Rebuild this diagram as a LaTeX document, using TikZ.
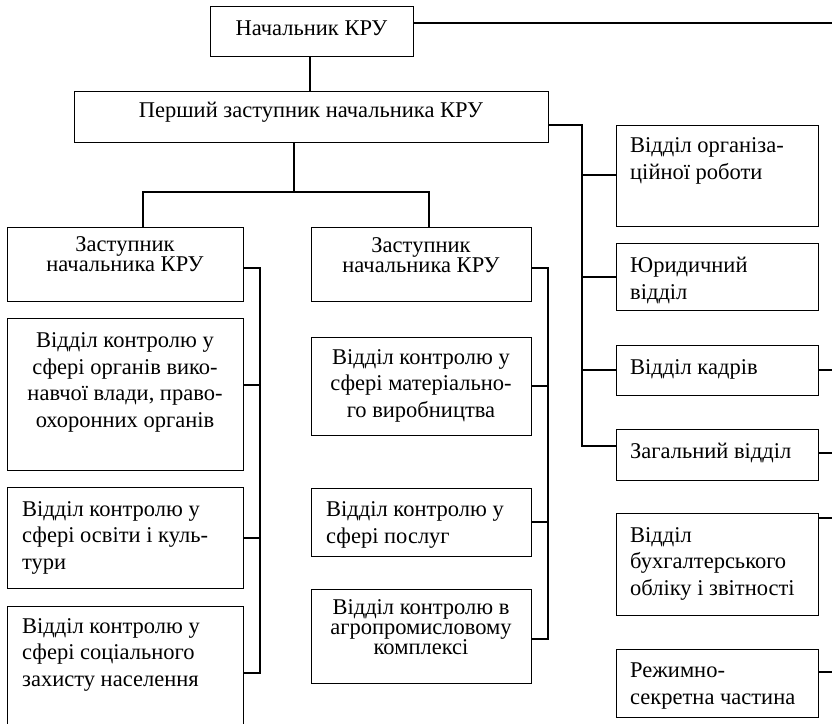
\documentclass[tikz,border=0pt]{standalone}
\usepackage{fontspec}
\setmainfont{Liberation Serif}
\usetikzlibrary{calc}
\begin{document}
% Text nodes are anchored at the baseline of their last line.
\begin{tikzpicture}[x=1pt,y=-1pt,
  box/.style={draw, line width=1.4pt, rectangle, inner sep=0pt, anchor=north west},
  conn/.style={line width=1.4pt},
  txt/.style={inner sep=0pt, font=\fontsize{22.5}{26.5}\selectfont},
  tight/.style={font=\fontsize{22.5}{20}\selectfont},
  ctr/.style={txt, anchor=base, align=center},
  lft/.style={txt, anchor=base west, align=left}]
\clip (0,0) rectangle (832,723);

% --- boxes ---
\node[box, minimum width=203, minimum height=50]  (chief)  at (210,6)   {};
\node[box, minimum width=474, minimum height=51]  (first)  at (74,91)   {};
\node[box, minimum width=236, minimum height=74]  (depL)   at (7,227)   {};
\node[box, minimum width=220, minimum height=74]  (depM)   at (311,227) {};
\node[box, minimum width=236, minimum height=152] (exec)   at (7,318)   {};
\node[box, minimum width=236, minimum height=101] (edu)    at (7,487)   {};
\node[box, minimum width=236, minimum height=130] (social) at (7,606)   {};
\node[box, minimum width=220, minimum height=98]  (matter) at (311,337) {};
\node[box, minimum width=220, minimum height=68]  (serv)   at (311,488) {};
\node[box, minimum width=220, minimum height=94]  (agro)   at (311,589) {};
\node[box, minimum width=202, minimum height=101] (org)    at (616,125) {};
\node[box, minimum width=202, minimum height=67]  (jur)    at (616,243) {};
\node[box, minimum width=202, minimum height=50]  (kadry)  at (616,345) {};
\node[box, minimum width=202, minimum height=51]  (zag)    at (616,429) {};
\node[box, minimum width=202, minimum height=102] (buh)    at (616,513) {};
\node[box, minimum width=202, minimum height=68]  (rezh)   at (616,649) {};

% --- texts ---
\node[ctr] (chief-t)  at (311.5,35) {Начальник КРУ};
\node[ctr] (first-t)  at (311,117)  {Перший заступник начальника КРУ};
\node[ctr, tight] (depL-t) at (125,271) {Заступник\\начальника КРУ};
\node[ctr, tight] (depM-t) at (421,272) {Заступник\\начальника КРУ};
\node[ctr] (exec-t)   at (125,427)  {Відділ контролю у\\сфері органів вико-\\навчої влади, право-\\охоронних органів};
\node[lft] (edu-t)    at (22,569)   {Відділ контролю у\\сфері освіти і куль-\\тури};
\node[lft] (social-t) at (22,686)   {Відділ контролю у\\сфері соціального\\захисту населення};
\node[ctr] (matter-t) at (421,417)  {Відділ контролю у\\сфері матеріально-\\го виробництва};
\node[lft] (serv-t)   at (326,543)  {Відділ контролю у\\сфері послуг};
\node[ctr, tight] (agro-t) at (421,654) {Відділ контролю в\\агропромисловому\\комплексі};
\node[lft] (org-t)    at (630,179)  {Відділ організа-\\ційної роботи};
\node[lft] (jur-t)    at (630,299)  {Юридичний\\відділ};
\node[lft] (kadry-t)  at (630,374)  {Відділ кадрів};
\node[lft] (zag-t)    at (630,458)  {Загальний відділ};
\node[lft] (buh-t)    at (630,595)  {Відділ\\бухгалтерського\\обліку і звітності};
\node[lft] (rezh-t)   at (630,704)  {Режимно-\\секретна частина};

% --- junction points ---
\coordinate (topout) at (832,23);
\coordinate (split)  at (294,192);
\coordinate (jl)     at (143,192);
\coordinate (jm)     at (429,192);
\coordinate (rtop)   at (582,125);
\coordinate (rbot)   at (582,446);
\coordinate (ltop)   at (260,268);
\coordinate (lbot)   at (260,673);
\coordinate (mtop)   at (548,268);
\coordinate (mbot)   at (548,639);
\coordinate (out1)   at (832,370);
\coordinate (out2)   at (832,453);
\coordinate (out3)   at (832,518);
\coordinate (out4)   at (832,672);

% --- connectors ---
\draw[conn] (chief.north east |- topout) -- (topout);
\draw[conn] (chief.south -| 310,0) -- (first.north -| 310,0);
\draw[conn] (first.south -| split) -- (split);
\draw[conn] (depL.north -| jl) -- (jl) -- (jm) -- (depM.north -| jm);

% staff departments under the first deputy
\draw[conn] (first.east |- rtop) -- (rtop) -- (rbot) -- (zag.west |- rbot);
\foreach \n/\y in {org/175, jur/277, kadry/370}
  \draw[conn] (rtop |- 0,\y) -- (\n.west |- 0,\y);

% left deputy branch
\draw[conn] (depL.east |- ltop) -- (ltop) -- (lbot) -- (social.east |- lbot);
\foreach \n/\y in {exec/385, edu/538}
  \draw[conn] (ltop |- 0,\y) -- (\n.east |- 0,\y);

% middle deputy branch
\draw[conn] (depM.east |- mtop) -- (mtop) -- (mbot) -- (agro.east |- mbot);
\foreach \n/\y in {matter/386, serv/522}
  \draw[conn] (mtop |- 0,\y) -- (\n.east |- 0,\y);

% links leaving on the right
\draw[conn] (kadry.east |- out1) -- (out1);
\draw[conn] (zag.east |- out2) -- (out2);
\draw[conn] (buh.east |- out3) -- (out3);
\draw[conn] (rezh.east |- out4) -- (out4);
\end{tikzpicture}
\end{document}
